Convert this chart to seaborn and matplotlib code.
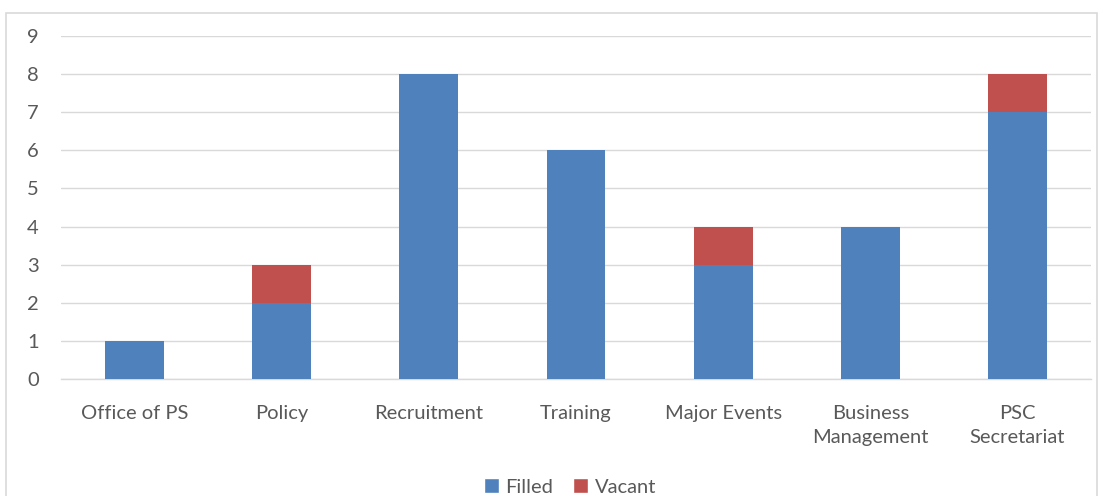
import matplotlib
matplotlib.use("Agg")
import matplotlib.pyplot as plt
import seaborn as sns
import pandas as pd
from matplotlib.patches import Rectangle, Patch

categories = ["Office of PS", "Policy", "Recruitment", "Training", "Major Events",
              "Business\nManagement", "PSC\nSecretariat"]
filled = [1, 2, 8, 6, 3, 4, 7]
vacant = [0, 1, 0, 0, 1, 0, 1]

blue = "#4F81BD"
red = "#C0504D"
txt = "#595959"

tabela = pd.DataFrame({"Unit": categories, "Filled": filled, "Vacant": vacant})
tabela["Total"] = tabela["Filled"] + tabela["Vacant"]

sns.set_style("white")
plt.rcParams["font.family"] = ["Lato", "DejaVu Sans"]

W, H = 1103, 496
fig = plt.figure(figsize=(W / 100, H / 100), dpi=100)
ax = fig.add_axes([61 / W, 1 - 379 / H, (1091 - 61) / W, (379 - 36) / H])

# frame around the chart
fig.patches.append(Rectangle((6 / W, -0.1), (1097 - 6) / W, 1.1 - 13 / H,
                             transform=fig.transFigure, fill=False,
                             edgecolor="#D9D9D9", linewidth=1.2, clip_on=False))

sns.barplot(data=tabela, x="Unit", y="Total", color=red, width=0.4,
            saturation=1, linewidth=0, ax=ax, zorder=3)
sns.barplot(data=tabela, x="Unit", y="Filled", color=blue, width=0.4,
            saturation=1, linewidth=0, ax=ax, zorder=4)

ax.set_ylim(0, 9)
ax.set_yticks(range(0, 10))
ax.set_xlim(-0.5, len(categories) - 0.5)
ax.yaxis.grid(True, color="#D9D9D9", linewidth=1, zorder=0)
ax.set_axisbelow(True)
for s in ["top", "right", "left"]:
    ax.spines[s].set_visible(False)
ax.spines["bottom"].set_color("#D9D9D9")
ax.spines["bottom"].set_linewidth(1)
ax.set_xlabel("")
ax.set_ylabel("")
ax.tick_params(axis="x", length=0, pad=19, labelsize=14.5, labelcolor=txt)
ax.tick_params(axis="y", length=0, pad=16, labelsize=14.5, labelcolor=txt)
ax.set_xticks(range(len(categories)))
ax.set_xticklabels(categories, linespacing=1.45, va="top")

handles = [Patch(facecolor=blue, label="Filled"), Patch(facecolor=red, label="Vacant")]
fig.legend(handles=handles, loc="center", bbox_to_anchor=(570 / W, 1 - 487 / H),
           ncol=2, frameon=False, fontsize=14.5, labelcolor=txt,
           handlelength=0.75, handleheight=0.75, handletextpad=0.3, columnspacing=1.0)

fig.savefig("out.png", dpi=100)
